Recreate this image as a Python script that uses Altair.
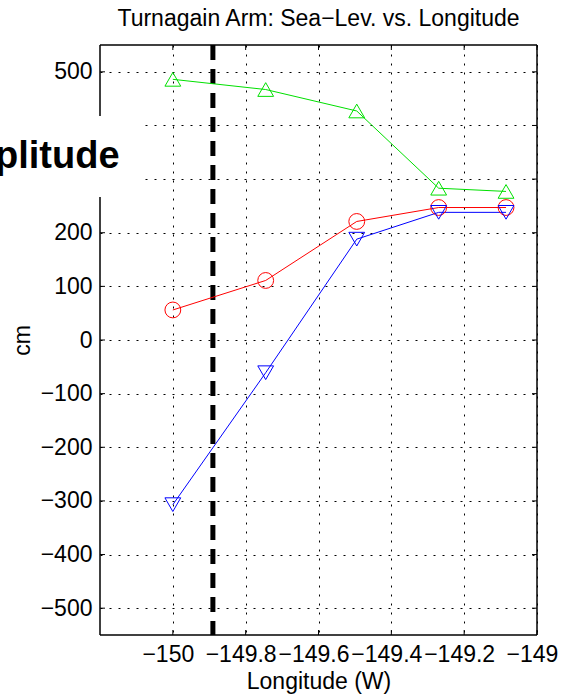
import altair as alt
import pandas as pd

# ---- data ----
longitude = [-150.0, -149.745, -149.495, -149.27, -149.085]
green_cm = [486, 467, 427, 283, 277]
red_cm = [56, 111, 221, 247, 247]
blue_cm = [-307, -61, 188, 238, 238]
series_names = ["green", "red", "blue"]
series_colors = ["#00e000", "#ff0000", "#0000ff"]
series_shapes = ["triangle-up", "circle", "triangle-down"]
x_ticks = [-150, -149.8, -149.6, -149.4, -149.2, -149]
y_ticks = [-500, -400, -300, -200, -100, 0, 100, 200, 300, 400, 500]
y_hidden_labels = [300, 400]  # covered by the white box in the reference
divider_lon = [-149.89]
title_text = "Turnagain Arm: Sea\u2212Lev. vs. Longitude"
overlay_text = ["plitude"]

W, H = 437, 590
FONT = "Liberation Sans"
FS = 23

rows = []
for name, vals in zip(series_names, [green_cm, red_cm, blue_cm]):
    for lon, v in zip(longitude, vals):
        rows.append({"lon": lon, "cm": v, "series": name})
df = pd.DataFrame(rows)

xscale = alt.Scale(domain=[-150.2, -149.0], nice=False, zero=False)
yscale = alt.Scale(domain=[-550, 550], nice=False, zero=False)
color_scale = alt.Scale(domain=series_names, range=series_colors)
shape_scale = alt.Scale(domain=series_names, range=series_shapes)

hidden_expr = " || ".join(f"datum.value == {v}" for v in y_hidden_labels)

xaxis = alt.Axis(values=x_ticks, format="~r", title="Longitude (W)", grid=True,
                 gridDash=[2, 7], gridColor="black", gridOpacity=1, gridWidth=1,
                 domain=False, ticks=False, tickSize=0, labelPadding=8,
                 labelFont=FONT, labelFontSize=FS, labelColor="black", labelOffset=-5,
                 titleFont=FONT, titleFontSize=FS, titleFontWeight="normal",
                 titleColor="black", titlePadding=4, zindex=0, labelFlush=False,
                 labelOverlap=False)
yaxis = alt.Axis(values=y_ticks, title="cm", grid=True,
                 labelExpr=f"({hidden_expr}) ? '' : format(datum.value, '~r')",
                 gridDash=[2, 7], gridColor="black", gridOpacity=1, gridWidth=1,
                 domain=False, ticks=False, tickSize=0, labelPadding=8,
                 labelFont=FONT, labelFontSize=FS, labelColor="black",
                 titleFont=FONT, titleFontSize=FS, titleFontWeight="normal",
                 titleColor="black", titlePadding=6, zindex=0, labelFlush=False,
                 labelOverlap=False)

X = alt.X("lon:Q", scale=xscale, axis=xaxis, title="Longitude (W)")
Y = alt.Y("cm:Q", scale=yscale, axis=yaxis, title="cm")

base = alt.Chart(df)
lines = base.mark_line(strokeWidth=1).encode(
    x=X, y=Y,
    color=alt.Color("series:N", scale=color_scale, legend=None),
    detail="series:N",
)
points = base.mark_point(filled=False, size=250, strokeWidth=1, opacity=1).encode(
    x=X, y=Y,
    color=alt.Color("series:N", scale=color_scale, legend=None),
    shape=alt.Shape("series:N", scale=shape_scale, legend=None),
)

divider = alt.Chart(pd.DataFrame({"lon": divider_lon})).mark_rule(
    color="black", strokeWidth=5, strokeDash=[15, 9]
).encode(x=X)

xt = pd.DataFrame({"lon": x_ticks})
yt = pd.DataFrame({"cm": y_ticks})
tick_bottom = alt.Chart(xt).mark_rule(color="black").encode(x=X, y=alt.value(H), y2=alt.value(H - 5))
tick_top = alt.Chart(xt).mark_rule(color="black").encode(x=X, y=alt.value(0), y2=alt.value(5))
tick_left = alt.Chart(yt).mark_rule(color="black").encode(y=Y, x=alt.value(0), x2=alt.value(5))
tick_right = alt.Chart(yt).mark_rule(color="black").encode(y=Y, x=alt.value(W), x2=alt.value(W - 5))

one = pd.DataFrame({"t": overlay_text})
frame_style = dict(color="black", strokeWidth=1.5)
frame_top = alt.Chart(one).mark_rule(**frame_style).encode(x=alt.value(0), x2=alt.value(W), y=alt.value(0))
frame_bottom = alt.Chart(one).mark_rule(**frame_style).encode(x=alt.value(0), x2=alt.value(W), y=alt.value(H))
frame_left = alt.Chart(one).mark_rule(**frame_style).encode(x=alt.value(0), y=alt.value(0), y2=alt.value(H))
frame_right = alt.Chart(one).mark_rule(**frame_style).encode(x=alt.value(W), y=alt.value(0), y2=alt.value(H))

cover = alt.Chart(one).mark_rect(color="white", opacity=1).encode(
    x=alt.value(-100), x2=alt.value(42), y=alt.value(71), y2=alt.value(152)
)
overlay = alt.Chart(one).mark_text(
    font=FONT, fontSize=38, fontWeight="bold", color="black",
    align="left", baseline="alphabetic"
).encode(x=alt.value(-105), y=alt.value(123), text="t:N")

chart = alt.layer(
    divider, lines, points, tick_bottom, tick_top, tick_left, tick_right,
    frame_top, frame_bottom, frame_left, frame_right, cover, overlay
).properties(
    width=W, height=H,
    padding={"left": 100, "top": 45, "right": 24, "bottom": 61},
    autosize=alt.AutoSizeParams(type="none"),
    title=alt.TitleParams(title_text, font=FONT, fontSize=FS, fontWeight="normal",
                          color="black", offset=12, anchor="middle"),
).configure(background="white").configure_view(stroke=None)

chart.save("out.html", embed_options={"renderer": "svg", "actions": False})
